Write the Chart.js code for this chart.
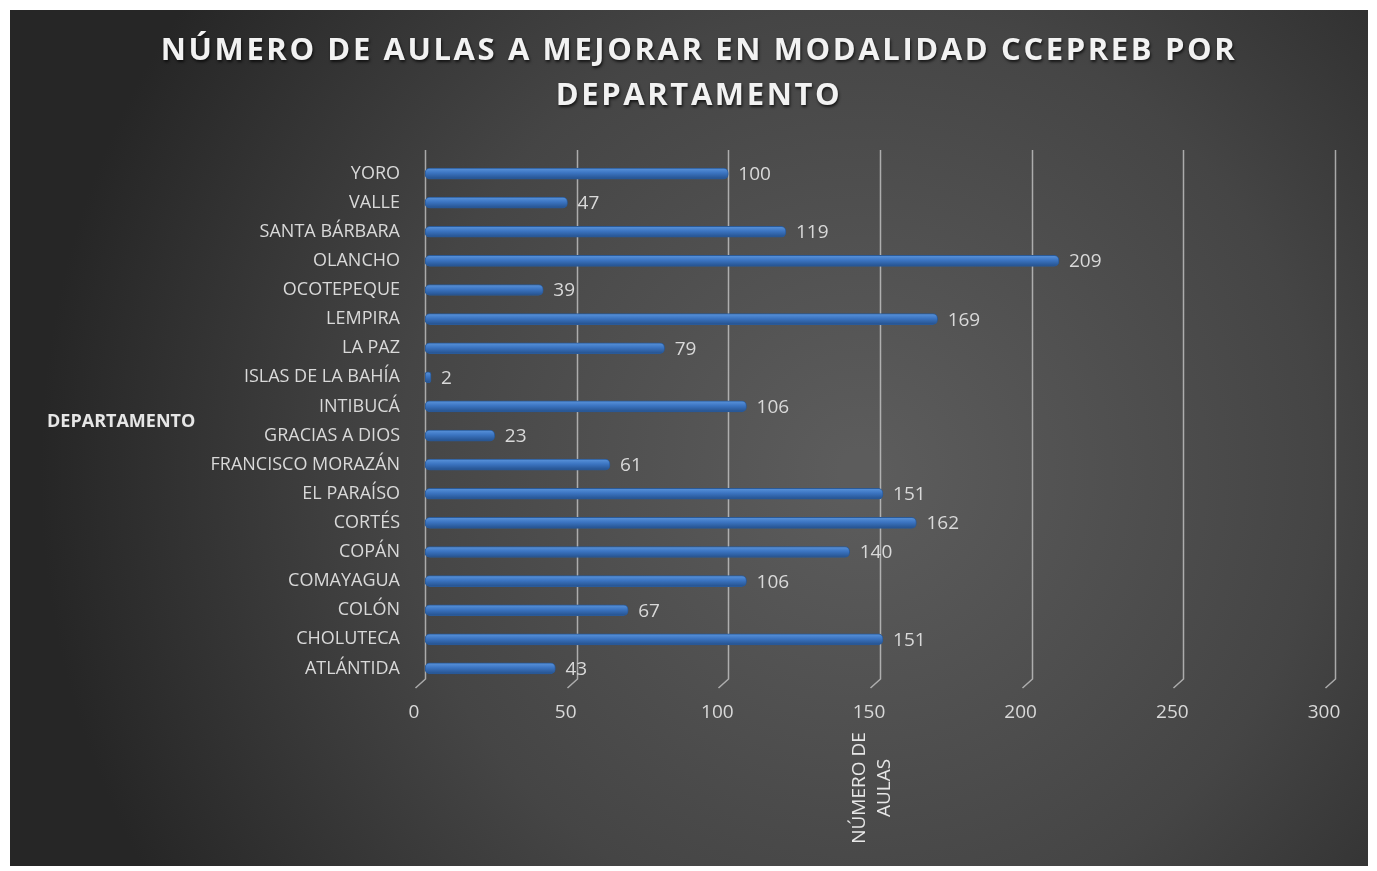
<!DOCTYPE html>
<html lang="es">
<head>
<meta charset="UTF-8">
<title>Número de aulas a mejorar en modalidad CCEPREB por departamento</title>
<script src="https://cdn.jsdelivr.net/npm/chart.js@4.4.1/dist/chart.umd.min.js"></script>
<style>
    html, body { margin: 0; padding: 0; background: #ffffff; }
    #wrap { width: 1377px; height: 871px; position: relative; }
</style>
</head>
<body>
<div id="wrap"><canvas id="aulasChart" width="1377" height="871"></canvas></div>
<script>
// Datos del gráfico (orden de Excel: de abajo hacia arriba)
const departamentos = [
    'ATLÁNTIDA', 'CHOLUTECA', 'COLÓN', 'COMAYAGUA', 'COPÁN', 'CORTÉS',
    'EL PARAÍSO', 'FRANCISCO MORAZÁN', 'GRACIAS A DIOS', 'INTIBUCÁ',
    'ISLAS DE LA BAHÍA', 'LA PAZ', 'LEMPIRA', 'OCOTEPEQUE', 'OLANCHO',
    'SANTA BÁRBARA', 'VALLE', 'YORO'
];
const aulas = [43, 151, 67, 106, 140, 162, 151, 61, 23, 106, 2, 79, 169, 39, 209, 119, 47, 100];
const ticksX = [0, 50, 100, 150, 200, 250, 300];

const tituloLineas = ['NÚMERO DE AULAS A MEJORAR EN MODALIDAD CCEPREB POR', 'DEPARTAMENTO'];
const tituloEjeY = 'DEPARTAMENTO';
const tituloEjeX = ['NÚMERO DE', 'AULAS'];

const colorTexto = '#d9d9d9';
const fuente = "'Open Sans', 'Noto Sans', sans-serif";

// Fondo oscuro con degradado radial
const fondoPlugin = {
    id: 'fondo',
    beforeDraw(chart) {
        const ctx = chart.ctx;
        ctx.save();
        const g = ctx.createRadialGradient(860, 470, 20, 860, 470, 820);
        g.addColorStop(0, '#5c5c5c');
        g.addColorStop(0.55, '#454545');
        g.addColorStop(1, '#262626');
        ctx.fillStyle = g;
        ctx.fillRect(10, 10, 1358, 856);
        ctx.restore();
    }
};

// Líneas de cuadrícula con "pie" en perspectiva
const cuadriculaPlugin = {
    id: 'cuadricula',
    beforeDatasetsDraw(chart) {
        const ctx = chart.ctx;
        const x = chart.scales.x;
        const area = chart.chartArea;
        ctx.save();
        ctx.strokeStyle = 'rgba(205,205,205,0.75)';
        ctx.lineWidth = 1.5;
        ticksX.forEach(v => {
            const px = Math.round(x.getPixelForValue(v)) + 0.5;
            ctx.beginPath();
            ctx.moveTo(px, area.top - 9);
            ctx.lineTo(px, area.bottom - 4);
            ctx.lineTo(px - 10, area.bottom + 5);
            ctx.stroke();
        });
        ctx.restore();
    }
};

// Etiquetas de valor y títulos
const textosPlugin = {
    id: 'textos',
    afterDatasetsDraw(chart) {
        const ctx = chart.ctx;
        const meta = chart.getDatasetMeta(0);
        ctx.save();
        ctx.fillStyle = colorTexto;
        ctx.font = '19px ' + fuente;
        ctx.textAlign = 'left';
        ctx.textBaseline = 'middle';
        meta.data.forEach((bar, i) => {
            ctx.fillText(String(aulas[i]), bar.x + 10, bar.y + 1);
        });
        ctx.restore();
    },
    afterDraw(chart) {
        const ctx = chart.ctx;
        const area = chart.chartArea;

        // Título principal
        ctx.save();
        ctx.font = 'bold 31px ' + fuente;
        ctx.letterSpacing = '2.6px';
        ctx.fillStyle = '#f2f2f2';
        ctx.textAlign = 'center';
        ctx.textBaseline = 'middle';
        ctx.shadowColor = 'rgba(0,0,0,0.7)';
        ctx.shadowBlur = 3;
        ctx.shadowOffsetX = 1;
        ctx.shadowOffsetY = 2;
        ctx.fillText(tituloLineas[0], 699, 51);
        ctx.fillText(tituloLineas[1], 699, 96);
        ctx.restore();

        // Título del eje Y (horizontal)
        ctx.save();
        ctx.font = 'bold 18px ' + fuente;
        ctx.fillStyle = '#e6e6e6';
        ctx.textAlign = 'left';
        ctx.textBaseline = 'middle';
        ctx.fillText(tituloEjeY, 47, (area.top + area.bottom) / 2 + 1);
        ctx.restore();

        // Título del eje X (rotado)
        ctx.save();
        ctx.translate(860, 788);
        ctx.rotate(-Math.PI / 2);
        ctx.font = '19px ' + fuente;
        ctx.fillStyle = '#e6e6e6';
        ctx.textAlign = 'center';
        ctx.textBaseline = 'middle';
        ctx.fillText(tituloEjeX[0], 0, 0);
        ctx.fillText(tituloEjeX[1], 0, 25);
        ctx.restore();
    }
};

const ctx = document.getElementById('aulasChart').getContext('2d');
const aulasChart = new Chart(ctx, {
    type: 'bar',
    data: {
        labels: departamentos,
        datasets: [{
            label: 'NÚMERO DE AULAS',
            data: aulas,
            backgroundColor: function(context) {
                const chart = context.chart;
                if (!chart.chartArea || context.dataIndex === undefined) return '#3a73c0';
                const y = chart.scales.y.getPixelForValue(context.dataIndex);
                const g = chart.ctx.createLinearGradient(0, y - 6, 0, y + 6);
                g.addColorStop(0, '#5d97de');
                g.addColorStop(0.45, '#3b74c1');
                g.addColorStop(1, '#234e88');
                return g;
            },
            borderColor: '#2a5a98',
            borderWidth: 1,
            borderSkipped: false,
            borderRadius: 5,
            barThickness: 11
        }]
    },
    options: {
        indexAxis: 'y',
        responsive: false,
        animation: false,
        layout: { padding: { top: 159, right: 42, bottom: 0, left: 0 } },
        plugins: {
            legend: { display: false },
            title: { display: false },
            tooltip: { enabled: false }
        },
        scales: {
            x: {
                min: 0,
                max: 300,
                afterFit(scale) { scale.height = 188; },
                afterBuildTicks(scale) { scale.ticks = ticksX.map(v => ({ value: v })); },
                grid: { display: false },
                border: { display: false },
                ticks: {
                    color: colorTexto,
                    font: { family: fuente, size: 19 },
                    padding: 10,
                    labelOffset: -11,
                    maxRotation: 0
                }
            },
            y: {
                reverse: true,
                afterFit(scale) { scale.width = 425; },
                grid: { display: false, drawTicks: false },
                border: { display: false },
                ticks: {
                    color: colorTexto,
                    font: { family: fuente, size: 18 },
                    padding: 25,
                    autoSkip: false
                }
            }
        }
    },
    plugins: [fondoPlugin, cuadriculaPlugin, textosPlugin]
});
</script>
</body>
</html>
